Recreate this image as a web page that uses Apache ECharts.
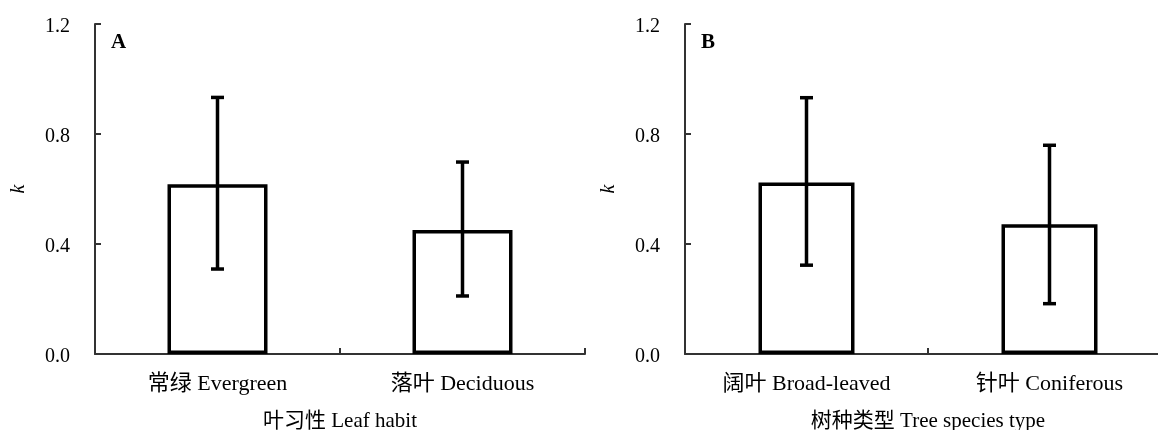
<!DOCTYPE html>
<html>
<head>
<meta charset="utf-8">
<script src="https://cdn.jsdelivr.net/npm/echarts@6/dist/echarts.min.js"></script>
<style>
  html, body { margin: 0; padding: 0; background: #fff; }
  #chart { width: 1158px; height: 430px; }
</style>
</head>
<body>
<div id="chart"></div>
<script>
// panel A: leaf habit
const habitCats = ['常绿 Evergreen', '落叶 Deciduous'];
const habitMean = [0.617, 0.451];
const habitLow = [0.309, 0.211];
const habitHigh = [0.933, 0.698];

// panel B: tree species type
const typeCats = ['阔叶 Broad-leaved', '针叶 Coniferous'];
const typeMean = [0.624, 0.472];
const typeLow = [0.323, 0.183];
const typeHigh = [0.932, 0.759];

const yTicks = [0, 0.4, 0.8, 1.2];

const FONT = '"Liberation Serif", "Times New Roman", "Noto Sans CJK SC", serif';
const AXIS_COLOR = '#333';

function errData(low, high) {
    return low.map((l, i) => [i, l, high[i]]);
}

function errRender(params, api) {
    const x = api.value(0);
    const lo = api.coord([x, api.value(1)]);
    const hi = api.coord([x, api.value(2)]);
    const cap = 6.5;
    const style = { stroke: '#000', lineWidth: 3.5 };
    return {
        type: 'group',
        children: [
            { type: 'line', shape: { x1: lo[0], y1: lo[1], x2: hi[0], y2: hi[1] }, style },
            { type: 'line', shape: { x1: lo[0] - cap, y1: lo[1], x2: lo[0] + cap, y2: lo[1] }, style },
            { type: 'line', shape: { x1: hi[0] - cap, y1: hi[1], x2: hi[0] + cap, y2: hi[1] }, style }
        ]
    };
}

function xAxisFor(idx, cats, name) {
    return {
        type: 'category',
        gridIndex: idx,
        data: cats,
        boundaryGap: true,
        name: name,
        nameLocation: 'middle',
        nameGap: 57,
        nameTextStyle: { fontFamily: FONT, fontSize: 21, color: '#000' },
        axisLine: { show: true, lineStyle: { color: AXIS_COLOR, width: 2 } },
        axisTick: { show: true, inside: true, length: 6, lineStyle: { color: AXIS_COLOR, width: 2 } },
        axisLabel: { margin: 19, fontFamily: FONT, fontSize: 22, color: '#000' },
        splitLine: { show: false }
    };
}

function yAxisFor(idx) {
    return {
        type: 'value',
        gridIndex: idx,
        min: yTicks[0],
        max: yTicks[yTicks.length - 1],
        interval: 0.4,
        name: 'k',
        nameLocation: 'middle',
        nameGap: 66,
        nameRotate: 90,
        nameTextStyle: { fontFamily: FONT, fontSize: 20, fontStyle: 'italic', color: '#000' },
        axisLine: { show: true, lineStyle: { color: AXIS_COLOR, width: 2 } },
        axisTick: { show: true, inside: true, length: 6, lineStyle: { color: AXIS_COLOR, width: 2 } },
        axisLabel: {
            margin: 25,
            fontFamily: FONT,
            fontSize: 20,
            color: '#000',
            formatter: v => '{t|' + v.toFixed(1) + '}',
            rich: {
                t: { fontFamily: FONT, fontSize: 20, color: '#000', padding: [6, 0, 0, 0] }
            }
        },
        splitLine: { show: false }
    };
}

function barSeries(idx, data, width) {
    return {
        type: 'bar',
        xAxisIndex: idx,
        yAxisIndex: idx,
        data: data,
        barWidth: width,
        itemStyle: { color: '#fff', borderColor: '#000', borderWidth: 3.5 },
        silent: true
    };
}

function errSeries(idx, low, high) {
    return {
        type: 'custom',
        xAxisIndex: idx,
        yAxisIndex: idx,
        data: errData(low, high),
        renderItem: errRender,
        z: 5,
        silent: true
    };
}

const chart = echarts.init(document.getElementById('chart'));
chart.setOption({
    backgroundColor: '#fff',
    animation: false,
    title: [
        { text: 'A', left: 106, top: 27, textStyle: { fontFamily: FONT, fontSize: 21, fontWeight: 'bold', color: '#000' } },
        { text: 'B', left: 696, top: 27, textStyle: { fontFamily: FONT, fontSize: 21, fontWeight: 'bold', color: '#000' } }
    ],
    grid: [
        { left: 95, top: 24, width: 490, bottom: 76, outerBoundsMode: 'none', containLabel: false },
        { left: 685, top: 24, width: 486, bottom: 76, outerBoundsMode: 'none', containLabel: false }
    ],
    xAxis: [
        xAxisFor(0, habitCats, '叶习性 Leaf habit'),
        xAxisFor(1, typeCats, '树种类型 Tree species type')
    ],
    yAxis: [yAxisFor(0), yAxisFor(1)],
    series: [
        barSeries(0, habitMean, 100),
        errSeries(0, habitLow, habitHigh),
        barSeries(1, typeMean, 96),
        errSeries(1, typeLow, typeHigh)
    ]
});
</script>
</body>
</html>
